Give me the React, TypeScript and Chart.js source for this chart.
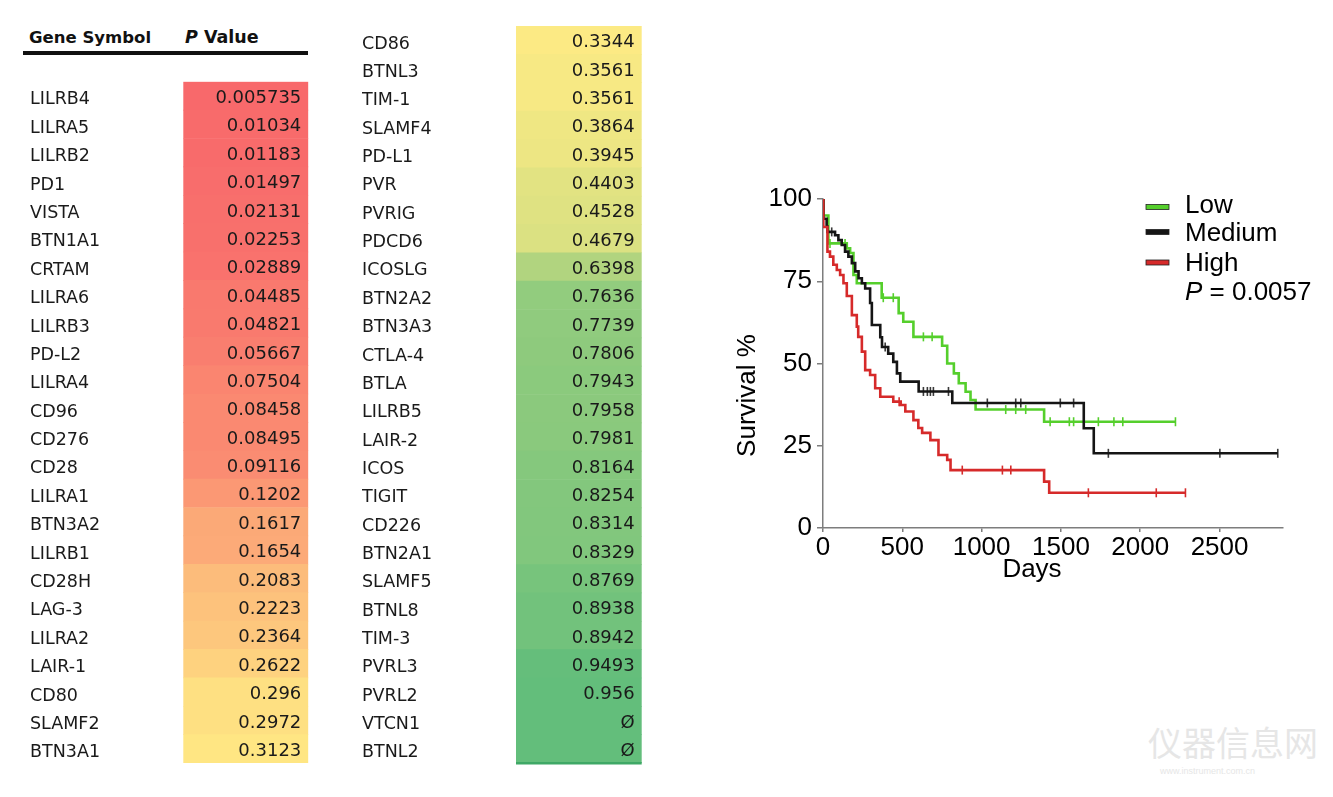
import React, { useEffect, useRef } from "react";
import { Chart, registerables } from "chart.js";
Chart.register(...registerables);

// ---------- table data ----------
const leftGenes = ["LILRB4","LILRA5","LILRB2","PD1","VISTA","BTN1A1","CRTAM","LILRA6","LILRB3","PD-L2","LILRA4","CD96","CD276","CD28","LILRA1","BTN3A2","LILRB1","CD28H","LAG-3","LILRA2","LAIR-1","CD80","SLAMF2","BTN3A1"];
const leftPValues = [0.005735,0.01034,0.01183,0.01497,0.02131,0.02253,0.02889,0.04485,0.04821,0.05667,0.07504,0.08458,0.08495,0.09116,0.1202,0.1617,0.1654,0.2083,0.2223,0.2364,0.2622,0.296,0.2972,0.3123];
const rightGenes = ["CD86","BTNL3","TIM-1","SLAMF4","PD-L1","PVR","PVRIG","PDCD6","ICOSLG","BTN2A2","BTN3A3","CTLA-4","BTLA","LILRB5","LAIR-2","ICOS","TIGIT","CD226","BTN2A1","SLAMF5","BTNL8","TIM-3","PVRL3","PVRL2","VTCN1","BTNL2"];
const rightPValues: (number | null)[] = [0.3344,0.3561,0.3561,0.3864,0.3945,0.4403,0.4528,0.4679,0.6398,0.7636,0.7739,0.7806,0.7943,0.7958,0.7981,0.8164,0.8254,0.8314,0.8329,0.8769,0.8938,0.8942,0.9493,0.956,null,null];

// ---------- survival data ----------
const seriesNames = ["Low", "Medium", "High"];
const lowTimes = [0, 3, 34, 150, 171, 192, 213, 370, 477, 506, 570, 751, 783, 825, 856, 899, 930, 962, 1394, 2222];
const lowSurv = [100, 95, 86.5, 85, 83.6, 76.9, 74.4, 70, 65.3, 62.7, 58.1, 55.4, 50, 47, 44, 41.4, 38.9, 36, 32.3, 32.3];
const lowCensored = [44, 139, 380, 443, 633, 688, 1152, 1215, 1278, 1432, 1553, 1580, 1736, 1834, 1890, 2222];

const mediumTimes = [0, 3, 23, 28, 76, 97, 118, 139, 160, 182, 203, 224, 245, 266, 297, 308, 361, 372, 411, 443, 466, 487, 603, 815, 1644, 1707, 2867];
const mediumSurv = [100, 94, 91.6, 90, 89, 87.5, 86, 84, 82.5, 80.5, 78, 75.9, 74.4, 72.8, 68.4, 61.7, 58, 55, 53, 50.5, 47, 44.5, 41.5, 38, 30.3, 22.7, 22.7];
const mediumCensored = [55, 392, 633, 658, 677, 696, 791, 1036, 1215, 1247, 1496, 1580, 1799, 2502, 2867];

const highTimes = [0, 2, 28, 44, 65, 87, 108, 129, 150, 182, 213, 222, 245, 266, 297, 329, 361, 443, 490, 519, 570, 601, 625, 677, 728, 783, 804, 1394, 1426, 2285];
const highSurv = [100, 91.5, 84, 82.5, 80, 78.4, 76.9, 74.4, 70.5, 64.7, 61.2, 58.1, 53.6, 48, 46.5, 42.5, 39.9, 38.4, 37.4, 35.4, 32.8, 30.4, 28.9, 26.7, 22.2, 20.7, 17.6, 14.1, 10.7, 10.7];
const highCensored = [480, 878, 1131, 1184, 1673, 2101, 2285];

const xTickValues = [0, 500, 1000, 1500, 2000, 2500];
const yTickValues = [0, 25, 50, 75, 100];
const pValueText = "0.0057";

// ---------- colors ----------
const GREEN = "#55cf2c";
const BLACK = "#151515";
const RED = "#d62a2a";
const AXIS = "#7d7d7d";

const allP = [...leftPValues, ...(rightPValues.filter((v) => v != null) as number[])].sort((a, b) => a - b);
const pMin = allP[0];
const pMax = allP[allP.length - 1];
const pMid = (allP[Math.floor((allP.length - 1) / 2)] + allP[Math.ceil((allP.length - 1) / 2)]) / 2;
const C_RED = [248, 105, 107];
const C_YEL = [255, 235, 132];
const C_GRN = [99, 190, 123];
function mix(a: number[], b: number[], t: number) {
  const c = a.map((v, i) => Math.round(v + (b[i] - v) * t));
  return `rgb(${c[0]},${c[1]},${c[2]})`;
}
function cellColor(v: number | null) {
  if (v == null) return mix(C_GRN, C_GRN, 0);
  if (v <= pMid) return mix(C_RED, C_YEL, (v - pMin) / (pMid - pMin));
  return mix(C_YEL, C_GRN, (v - pMid) / (pMax - pMid));
}

const TABLE_FONT = "DejaVu Sans";
const KM_FONT = "Liberation Sans";
const KM_SIZE = 26;

function TableChart(props: {
  genes: string[];
  values: (number | null)[];
  left: number;
  width: number;
  pad: { left: number; top: number; right: number; bottom: number };
  axisWidth: number;
  bottomRule?: boolean;
}) {
  const ref = useRef<HTMLCanvasElement>(null);
  useEffect(() => {
    const values = props.values;
    const valuePlugin = {
      id: "cellValues",
      afterDatasetsDraw(chart: any) {
        const ctx = chart.ctx;
        const meta = chart.getDatasetMeta(0);
        const area = chart.chartArea;
        ctx.save();
        ctx.font = `18px "${TABLE_FONT}"`;
        ctx.fillStyle = "#1a1a1a";
        ctx.textAlign = "right";
        ctx.textBaseline = "middle";
        meta.data.forEach((bar: any, i: number) => {
          const v = values[i];
          ctx.fillText(v == null ? "Ø" : String(v), area.right - 7, bar.y + 2.5);
        });
        if (props.bottomRule) {
          ctx.fillStyle = "#3fa866";
          ctx.fillRect(area.left, area.bottom - 1, area.right - area.left, 2.5);
        }
        ctx.restore();
      },
    };
    const chart = new Chart(ref.current as HTMLCanvasElement, {
      type: "bar",
      data: {
        labels: props.genes,
        datasets: [
          {
            data: props.genes.map(() => [0, 1]) as any,
            backgroundColor: values.map(cellColor),
            borderWidth: 0,
            categoryPercentage: 1,
            barPercentage: 1,
          },
        ],
      },
      options: {
        animation: false,
        responsive: false,
        indexAxis: "y",
        layout: { padding: props.pad },
        plugins: { legend: { display: false }, tooltip: { enabled: false } },
        scales: {
          x: { display: false, min: 0, max: 1 },
          y: {
            afterFit: (s: any) => {
              s.width = props.axisWidth;
            },
            grid: { display: false },
            border: { display: false },
            ticks: {
              autoSkip: false,
              crossAlign: "far",
              padding: 0,
              labelOffset: 4,
              color: "#1a1a1a",
              font: { family: TABLE_FONT, size: 17.5 },
            },
          },
        },
      } as any,
      plugins: [valuePlugin],
    });
    return () => chart.destroy();
  }, []);
  return (
    <canvas
      ref={ref}
      width={props.width}
      height={797}
      style={{ position: "absolute", left: props.left, top: 0, width: props.width, height: 797, display: "block" }}
    />
  );
}

function survAt(times: number[], surv: number[], t: number) {
  let s = surv[0];
  for (let i = 0; i < times.length; i++) if (times[i] <= t) s = surv[i];
  return s;
}

function KMChart() {
  const ref = useRef<HTMLCanvasElement>(null);
  useEffect(() => {
    const lines = [
      { name: seriesNames[0], times: lowTimes, surv: lowSurv, cens: lowCensored, color: GREEN, tick: GREEN },
      { name: seriesNames[1], times: mediumTimes, surv: mediumSurv, cens: mediumCensored, color: BLACK, tick: "#3a3a3a" },
      { name: seriesNames[2], times: highTimes, surv: highSurv, cens: highCensored, color: RED, tick: RED },
    ];
    const datasets: any[] = [];
    [2, 1, 0].forEach((k) => {
      const l = lines[k];
      datasets.push({
        label: l.name,
        data: l.times.map((t, i) => ({ x: t, y: l.surv[i] })),
        borderColor: l.color,
        borderWidth: 2.6,
        stepped: true,
        pointRadius: 0,
        fill: false,
      });
      datasets.push({
        label: l.name + " censored",
        data: l.cens.map((t) => ({ x: t, y: survAt(l.times, l.surv, t) })),
        showLine: false,
        pointStyle: "line",
        rotation: 90,
        pointRadius: 4.5,
        pointHoverRadius: 4.5,
        pointBorderWidth: 1.6,
        pointBorderColor: l.tick,
        borderColor: l.tick,
      });
    });
    const decor = {
      id: "kmDecor",
      afterDraw(chart: any) {
        const ctx = chart.ctx;
        ctx.save();
        ctx.font = `${KM_SIZE}px "${KM_FONT}"`;
        ctx.fillStyle = "#000";
        ctx.textBaseline = "middle";
        ctx.textAlign = "left";
        const rows = [
          { y: 57, ty: 56 },
          { y: 82, ty: 84 },
          { y: 112.5, ty: 114 },
        ];
        lines.forEach((l, i) => {
          ctx.fillStyle = l.color;
          ctx.fillRect(446, rows[i].y - 2.5, 23, 5);
          ctx.strokeStyle = "#222";
          ctx.lineWidth = 0.8;
          ctx.strokeRect(446, rows[i].y - 2.5, 23, 5);
          ctx.fillStyle = "#000";
          ctx.fillText(l.name, 485, rows[i].ty);
        });
        ctx.font = `italic ${KM_SIZE}px "${KM_FONT}"`;
        ctx.fillText("P", 485, 143);
        const pw = ctx.measureText("P").width;
        ctx.font = `${KM_SIZE}px "${KM_FONT}"`;
        ctx.fillText(" = " + pValueText, 485 + pw, 143);
        // axis titles
        ctx.textAlign = "center";
        ctx.textBaseline = "alphabetic";
        ctx.fillText("Days", 332, 427);
        ctx.translate(48, 245.5);
        ctx.rotate(-Math.PI / 2);
        ctx.textBaseline = "middle";
        ctx.fillText("Survival %", 0, 0);
        ctx.restore();
      },
    };
    const chart = new Chart(ref.current as HTMLCanvasElement, {
      type: "line",
      data: { datasets },
      options: {
        animation: false,
        responsive: false,
        layout: { padding: { left: 0, top: 49, right: 50, bottom: 0 } },
        plugins: { legend: { display: false }, tooltip: { enabled: false } },
        scales: {
          x: {
            type: "linear",
            min: 0,
            max: 2900,
            afterFit: (s: any) => {
              s.height = 92;
            },
            afterBuildTicks: (s: any) => {
              s.ticks = xTickValues.map((v) => ({ value: v }));
            },
            ticks: {
              autoSkip: false,
              maxRotation: 0,
              padding: 3,
              color: "#000",
              callback: (v: any) => String(v),
              font: { family: KM_FONT, size: KM_SIZE, lineHeight: 1 },
            },
            grid: { drawOnChartArea: false, tickLength: 4, color: AXIS, lineWidth: 1.5 },
            border: { color: AXIS, width: 1.5 },
          },
          y: {
            min: 0,
            max: 100,
            afterFit: (s: any) => {
              s.width = 123;
            },
            afterBuildTicks: (s: any) => {
              s.ticks = yTickValues.map((v) => ({ value: v }));
            },
            ticks: {
              autoSkip: false,
              padding: 5,
              color: "#000",
              callback: (v: any) => String(v),
              font: { family: KM_FONT, size: KM_SIZE, lineHeight: 1 },
            },
            grid: { drawOnChartArea: false, tickLength: 6, color: AXIS, lineWidth: 1.5 },
            border: { color: AXIS, width: 1.5 },
          },
        },
      } as any,
      plugins: [decor],
    });
    return () => chart.destroy();
  }, []);
  return (
    <canvas
      ref={ref}
      width={633}
      height={470}
      style={{ position: "absolute", left: 700, top: 150, width: 633, height: 470, display: "block" }}
    />
  );
}

export default function App() {
  useEffect(() => {
    document.body.style.margin = "0";
  }, []);
  const headStyle: React.CSSProperties = {
    position: "absolute",
    top: 28,
    fontFamily: TABLE_FONT,
    fontWeight: "bold",
    fontSize: 16.5,
    lineHeight: "20px",
    color: "#111",
    whiteSpace: "nowrap",
  };
  return (
    <div style={{ position: "absolute", left: 0, top: 0, width: 1333, height: 797, overflow: "hidden", background: "#fff" }}>
      <div style={{ ...headStyle, left: 29 }}>Gene Symbol</div>
      <div style={{ ...headStyle, left: 185, fontSize: 17.5, top: 27 }}>
        <span style={{ fontStyle: "italic" }}>P</span> Value
      </div>
      <div style={{ position: "absolute", left: 23, top: 51, width: 285, height: 4, background: "#111" }} />
      <TableChart
        genes={leftGenes}
        values={leftPValues}
        left={0}
        width={330}
        pad={{ left: 30, top: 81.7, right: 21.7, bottom: 34 }}
        axisWidth={153.3}
      />
      <TableChart
        genes={rightGenes}
        values={rightPValues}
        left={330}
        width={330}
        pad={{ left: 32, top: 26, right: 18.3, bottom: 34 }}
        axisWidth={154}
        bottomRule
      />
      <KMChart />
      <div
        style={{
          position: "absolute",
          left: 1148,
          top: 722,
          fontFamily: "Noto Sans CJK SC",
          fontSize: 34,
          lineHeight: "40px",
          color: "#e6e6e6",
          whiteSpace: "nowrap",
        }}
      >
        仪器信息网
      </div>
      <div
        style={{
          position: "absolute",
          left: 1160,
          top: 766,
          fontFamily: "Liberation Sans",
          fontSize: 9,
          color: "#e6e6e6",
          whiteSpace: "nowrap",
        }}
      >
        www.instrument.com.cn
      </div>
    </div>
  );
}
